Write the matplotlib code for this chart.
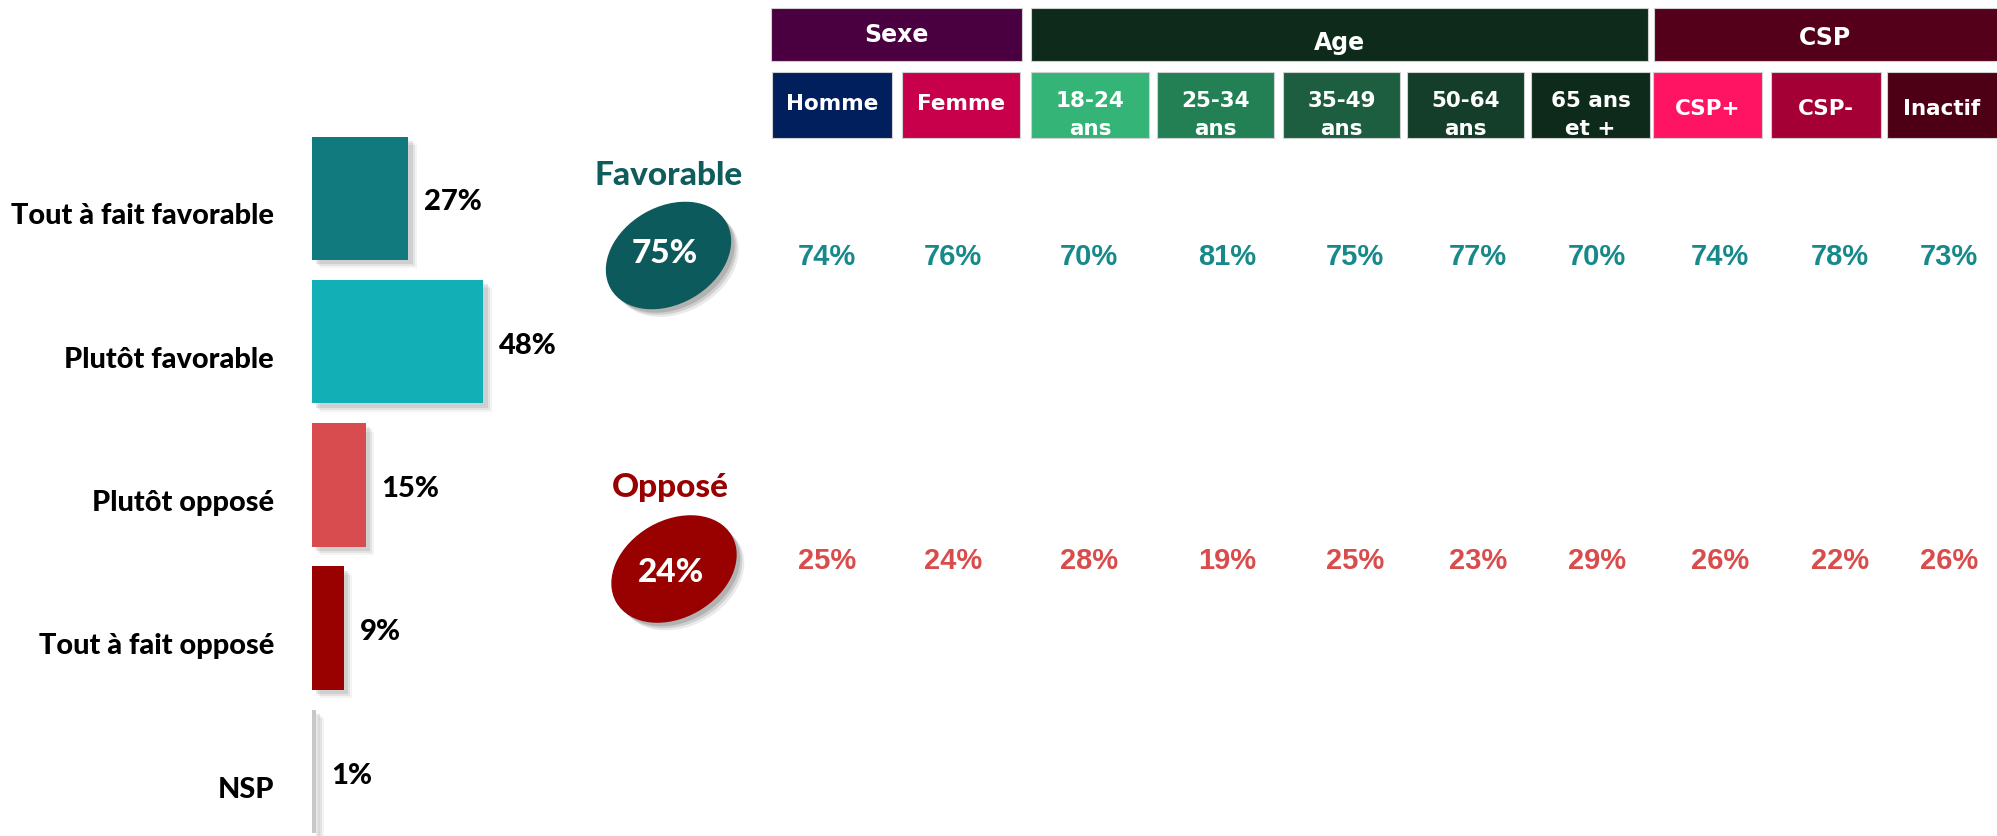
import matplotlib
matplotlib.use("Agg")
import matplotlib.pyplot as plt
import matplotlib.patheffects as pe
from matplotlib.patches import Ellipse

# data
categories = ["Tout à fait favorable", "Plutôt favorable", "Plutôt opposé",
              "Tout à fait opposé", "NSP"]
shares = [27, 48, 15, 9, 1]

groups = ["Sexe", "Age", "CSP"]
subgroups = [["Homme"], ["Femme"], ["18-24", "ans"], ["25-34", "ans"],
             ["35-49", "ans"], ["50-64", "ans"], ["65 ans", "et +"],
             ["CSP+"], ["CSP-"], ["Inactif"]]
favorable = [74, 76, 70, 81, 75, 77, 70, 74, 78, 73]
oppose = [25, 24, 28, 19, 25, 23, 29, 26, 22, 26]
total_fav = 75
total_opp = 24

# styles / layout (pixels of the 1997x837 picture)
W, H = 1997, 837
bar_colors = ["#117a7e", "#13afb6", "#d84c4f", "#990000", "#c8c8c8"]
group_edges = [(771, 1022), (1031, 1648), (1654, 2000)]
group_colors = ["#4a0040", "#0d2a1b", "#55001a"]
group_base = [42, 50, 45]
sub_edges = [(772, 892), (902, 1020), (1031, 1149), (1157, 1274), (1283, 1400),
             (1407, 1524), (1531, 1650), (1653, 1762), (1771, 1881), (1887, 2000)]
sub_colors = ["#001f5c", "#c8004b", "#35b478", "#238055", "#1e5e40",
              "#143d2a", "#0d2a1b", "#ff1464", "#a50035", "#4d0015"]
value_x = [827, 953, 1089, 1227, 1355, 1478, 1597, 1720, 1840, 1949]
fav_color = "#17898b"
opp_color = "#d94c4c"

label_font = ["Lato", "DejaVu Sans"]
head_font = "DejaVu Sans"
num_font = "Liberation Sans"


def soft_shadow(alpha):
    # a few stacked offsets to fake a blurred drop shadow
    fx = []
    for k, a in ((6, 0.3), (4.5, 0.45), (3, 0.65)):
        fx.append(pe.SimplePatchShadow(offset=(k, -k), shadow_rgbFace="#808080",
                                       alpha=alpha * a))
    fx.append(pe.Normal())
    return fx


fig = plt.figure(figsize=(W / 100, H / 100), dpi=100)

# full-figure axes in pixel units for the table part
ax = fig.add_axes([0, 0, 1, 1])
ax.set_xlim(0, W)
ax.set_ylim(H, 0)
ax.axis("off")

# group headers
for name, (x0, x1), c, yb in zip(groups, group_edges, group_colors, group_base):
    ax.bar(x0, 53, width=x1 - x0, bottom=9, align="edge", color=c,
           edgecolor="#d0d0d0", linewidth=0.8)
    ax.text((x0 + min(x1, W)) / 2, yb, name, ha="center", va="baseline",
            color="white", fontsize=17, fontweight="bold", family=head_font)

# sub headers
for lines, (x0, x1), c in zip(subgroups, sub_edges, sub_colors):
    ax.bar(x0, 66, width=x1 - x0, bottom=72.5, align="edge", color=c,
           edgecolor="#d0d0d0", linewidth=0.8)
    xc = (x0 + min(x1, W)) / 2
    if len(lines) == 1:
        yb = 110 if lines[0] in ("Homme", "Femme") else 115
        ax.text(xc, yb, lines[0], ha="center", va="baseline", color="white",
                fontsize=15.5, fontweight="bold", family=head_font)
    else:
        ax.text(xc, 106.5, lines[0], ha="center", va="baseline", color="white",
                fontsize=15.5, fontweight="bold", family=head_font)
        ax.text(xc, 135, lines[1], ha="center", va="baseline", color="white",
                fontsize=15.5, fontweight="bold", family=head_font)

# values per column
for x, f, o in zip(value_x, favorable, oppose):
    ax.text(x, 265, f"{f}%", ha="center", va="baseline", color=fav_color,
            fontsize=21, fontweight="bold", family=num_font)
    ax.text(x, 569, f"{o}%", ha="center", va="baseline", color=opp_color,
            fontsize=21, fontweight="bold", family=num_font)

# total bubbles
ax.text(669, 185, "Favorable", ha="center", va="baseline", color="#0f5c5c",
        fontsize=24, fontweight="black", family=label_font)
e1 = Ellipse((668.5, 256.5), 132, 96, angle=-30, color="#0d5a5c")
e1.set_path_effects(soft_shadow(0.55))
ax.add_patch(e1)
ax.text(665, 263, f"{total_fav}%", ha="center", va="baseline", color="white",
        fontsize=24, fontweight="black", family=label_font)

ax.text(670, 497, "Opposé", ha="center", va="baseline", color="#990000",
        fontsize=24, fontweight="black", family=label_font)
e2 = Ellipse((674, 570), 132, 96, angle=-30, color="#990000")
e2.set_path_effects(soft_shadow(0.55))
ax.add_patch(e2)
ax.text(671.5, 581.5, f"{total_opp}%", ha="center", va="baseline", color="white",
        fontsize=24, fontweight="black", family=label_font)

# bar chart
top = 127.7
axb = fig.add_axes([312 / W, 0, 357 / W, 1 - top / H])
axb.set_xlim(0, 100)
axb.set_ylim(4.45, -0.5)
axb.axis("off")
ypos = list(range(len(categories)))
bars = axb.barh(ypos, shares, height=0.862, color=bar_colors)
for b in bars:
    b.set_path_effects(soft_shadow(0.3))
for y, cat, v in zip(ypos, categories, shares):
    axb.text(-10.6, y + 0.175, cat, ha="right", va="baseline", color="black",
             fontsize=20.8, fontweight="black", family=label_font, clip_on=False)
    axb.text(v + 4.5, y + 0.077, f"{v}%", ha="left", va="baseline", color="black",
             fontsize=21, fontweight="black", family=label_font, clip_on=False)

fig.savefig("out.png", dpi=100)
